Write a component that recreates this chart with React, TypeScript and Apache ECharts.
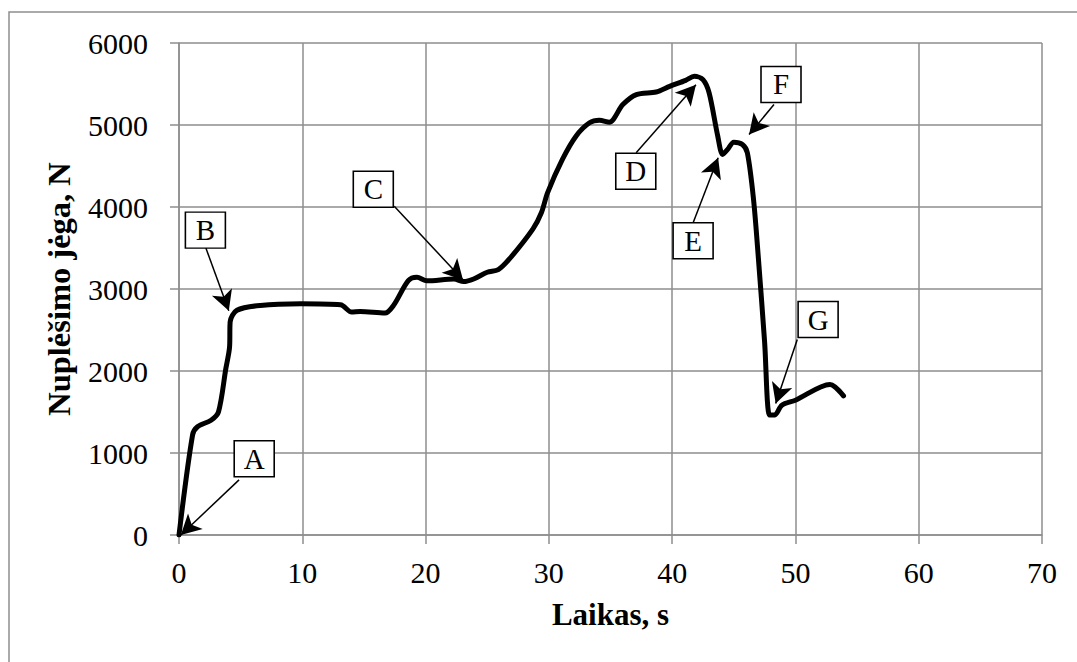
import React, { useEffect, useRef } from "react";
import * as echarts from "echarts";

// Time (s) and tearing force (N) of the measured curve
const timeS: number[] = [
  0, 1.1, 1.5, 2.6, 3.2, 3.8, 4.1, 4.15, 4.7, 6.6, 9.9, 13.1, 14.0, 14.7, 16.7, 17.4,
  18.6, 19.3, 20.1, 22.3, 23.1, 23.9, 25.0, 25.9, 26.8, 28.7, 29.4, 29.9, 31.1, 32.2,
  33.3, 34.1, 34.9, 36.0, 37.1, 38.7, 39.8, 41.1, 41.8, 42.5, 43.0, 43.7, 44.1, 44.5,
  45.0, 45.7, 46.1, 46.6, 47.0, 47.5, 47.9, 48.3, 48.9, 50.0, 52.8, 53.9,
];
const forceN: number[] = [
  0, 1220, 1320, 1400, 1500, 2030, 2290, 2600, 2740, 2800, 2820, 2807, 2718, 2725, 2706, 2800,
  3102, 3143, 3100, 3122, 3090, 3122, 3204, 3236, 3366, 3730, 3933, 4176, 4581, 4864,
  5027, 5058, 5034, 5249, 5371, 5403, 5471, 5545, 5593, 5553, 5391, 4864, 4641, 4702,
  4791, 4763, 4662, 4095, 3366, 2354, 1462, 1462, 1583, 1644, 1835, 1697,
];

// Point labels: letter, box centre, arrow tail and arrow tip (data units)
const labelLetters: string[] = ["A", "B", "C", "D", "E", "F", "G"];
const labelBox: [number, number][] = [
  [6.1, 930], [2.14, 3718], [15.76, 4216], [37.05, 4435], [41.7, 3588], [48.83, 5494], [51.84, 2627],
];
const arrowFrom: [number, number][] = [
  [4.87, 672], [2.18, 3500], [17.46, 4010], [37.08, 4662], [41.71, 3812], [48.26, 5249], [50.15, 2385],
];
const arrowTo: [number, number][] = [
  [0.15, 0], [4.04, 2734], [23.04, 3110], [41.93, 5492], [43.73, 4601], [46.24, 4884], [48.4, 1604],
];

const xTicks = { min: 0, max: 70, interval: 10 };
const yTicks = { min: 0, max: 6000, interval: 1000 };

const FONT = "'Liberation Serif', 'Times New Roman', serif";
const GRID_COLOR = "#8e8e8e";

export default function App() {
  const ref = useRef<HTMLDivElement>(null);

  useEffect(() => {
    if (!ref.current) return;
    const chart = echarts.init(ref.current, undefined, { renderer: "svg" });

    const points = timeS.map((t, i) => [t, forceN[i]]);

    chart.setOption({
      animation: false,
      backgroundColor: "#ffffff",
      textStyle: { fontFamily: FONT },
      graphic: [
        {
          type: "rect",
          shape: { x: 9, y: 12, width: 1200, height: 800 },
          style: { fill: "none", stroke: GRID_COLOR, lineWidth: 1.5 },
          silent: true,
          z: -10,
        },
      ],
      grid: { left: 179, right: 35, top: 43, bottom: 127, containLabel: false },
      xAxis: {
        type: "value",
        ...xTicks,
        name: "Laikas, s",
        nameLocation: "middle",
        nameGap: 64,
        nameTextStyle: { fontFamily: FONT, fontSize: 31, fontWeight: "bold", color: "#000" },
        axisLine: { show: true, lineStyle: { color: GRID_COLOR, width: 1.5 } },
        axisTick: { show: true, length: 9, lineStyle: { color: GRID_COLOR, width: 1.5 } },
        axisLabel: { fontFamily: FONT, fontSize: 30, color: "#000", margin: 22 },
        splitLine: { show: true, lineStyle: { color: GRID_COLOR, width: 1.5 } },
      },
      yAxis: {
        type: "value",
        ...yTicks,
        name: "Nuplėšimo jėga, N",
        nameLocation: "middle",
        nameGap: 104,
        nameRotate: 90,
        nameTextStyle: { fontFamily: FONT, fontSize: 32.5, fontWeight: "bold", color: "#000" },
        axisLine: { show: true, lineStyle: { color: GRID_COLOR, width: 1.5 } },
        axisTick: { show: true, length: 9, lineStyle: { color: GRID_COLOR, width: 1.5 } },
        axisLabel: {
          fontFamily: FONT,
          fontSize: 30,
          color: "#000",
          margin: 31,
          formatter: (v: number) => String(v),
        },
        splitLine: { show: true, lineStyle: { color: GRID_COLOR, width: 1.5 } },
      },
      series: [
        {
          type: "line",
          data: points,
          showSymbol: false,
          smooth: 0.3,
          lineStyle: { color: "#000", width: 5, cap: "round", join: "round" },
          z: 3,
          markLine: {
            silent: true,
            symbol: ["none", "arrow"],
            symbolSize: [16, 20],
            label: { show: false },
            lineStyle: { color: "#000", width: 1.5, type: "solid" },
            itemStyle: { color: "#000" },
            data: arrowFrom.map((from, i) => [{ coord: from }, { coord: arrowTo[i] }]),
          },
          markPoint: {
            silent: true,
            symbol: "rect",
            symbolSize: [40, 36],
            itemStyle: { color: "#fff", borderColor: "#000", borderWidth: 1.5 },
            label: {
              show: true,
              position: "inside",
              color: "#000",
              fontFamily: FONT,
              fontSize: 29,
              formatter: (p: any) => p.name,
            },
            data: labelLetters.map((letter, i) => ({ name: letter, coord: labelBox[i] })),
          },
        },
      ],
    });

    return () => chart.dispose();
  }, []);

  return (
    <div
      ref={ref}
      style={{ position: "fixed", left: 0, top: 0, width: 1077, height: 662 }}
    />
  );
}
